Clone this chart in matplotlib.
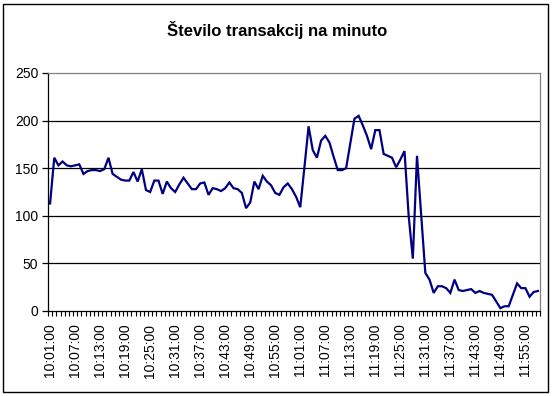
import matplotlib
matplotlib.use("Agg")
import matplotlib.pyplot as plt
from matplotlib.patches import Rectangle

plt.rcParams['font.family'] = ['Liberation Sans', 'DejaVu Sans']

title = "Število transakcij na minuto"

# one value per minute, 10:01:00 .. 11:58:00
values = [
    113, 161, 153, 157, 153, 152, 153, 154, 144, 147,
    148, 148, 147, 149, 161, 144, 141, 138, 137, 137,
    146, 136, 149, 127, 125, 137, 137, 123, 136, 129,
    125, 133, 140, 134, 128, 128, 134, 135, 122, 129,
    128, 126, 129, 135, 129, 128, 124, 108, 114, 136,
    128, 142, 136, 132, 124, 122, 130, 134,
    128, 120, 109, 151, 194, 169, 161, 179, 184, 177, 162, 148,
    148, 150, 176, 202, 205, 195, 184, 170, 190, 190, 165, 163, 161, 151, 159, 168,
    100, 55, 163, 101,
    40, 33, 19, 26, 26, 24, 19, 33, 22, 21,
    22, 23, 19, 21, 19, 18, 17, 10, 3, 5,
    5, 17, 29, 24, 24, 15, 20, 21,
]

tick_labels = [
    "10:01:00", "10:07:00", "10:13:00", "10:19:00", "10:25:00",
    "10:31:00", "10:37:00", "10:43:00", "10:49:00", "10:55:00",
    "11:01:00", "11:07:00", "11:13:00", "11:19:00", "11:25:00",
    "11:31:00", "11:37:00", "11:43:00", "11:49:00", "11:55:00",
]
label_step = 6
y_ticks = [0, 50, 100, 150, 200, 250]

W, H = 555, 396
fig = plt.figure(figsize=(W / 100, H / 100), dpi=100)
fig.patch.set_facecolor("white")

# outer chart border
fig.add_artist(Rectangle((3 / W, 4 / H), 545 / W, 388 / H, transform=fig.transFigure,
                         fill=False, edgecolor="black", linewidth=1.0))

ax = fig.add_axes([48 / W, 1 - 311 / H, 492 / W, 238 / H])
n = len(values)
x = list(range(n))
ax.plot(x, values, color="#000080", linewidth=1.6, solid_joinstyle="miter")

ax.set_xlim(-0.5, n - 0.5)
ax.set_ylim(0, 250)

for yv in y_ticks[1:-1]:
    ax.axhline(yv, color="black", linewidth=0.9, zorder=0)

ax.set_yticks(y_ticks)
ax.set_yticklabels([str(v) for v in y_ticks], fontsize=10)
ax.tick_params(axis="y", direction="out", length=4, width=0.9, pad=3)

# category boundary tick marks
ax.set_xticks([i - 0.5 for i in range(n + 1)])
ax.set_xticklabels([])
ax.tick_params(axis="x", which="major", direction="out", length=3.5, width=0.8)
# labels at category centers
ax.set_xticks([i * label_step for i in range(len(tick_labels))], minor=True)
ax.set_xticklabels(tick_labels, minor=True, rotation=90, fontsize=10)
ax.tick_params(axis="x", which="minor", length=0, pad=9)

ax.spines["left"].set_color("black")
ax.spines["bottom"].set_color("black")
ax.spines["top"].set_color("#808080")
ax.spines["right"].set_color("#808080")
for s in ax.spines.values():
    s.set_linewidth(0.9)

fig.text(0.5, 1 - 30 / H, title, ha="center", va="center", fontsize=12, fontweight="bold")

fig.savefig("out.png", dpi=100)
